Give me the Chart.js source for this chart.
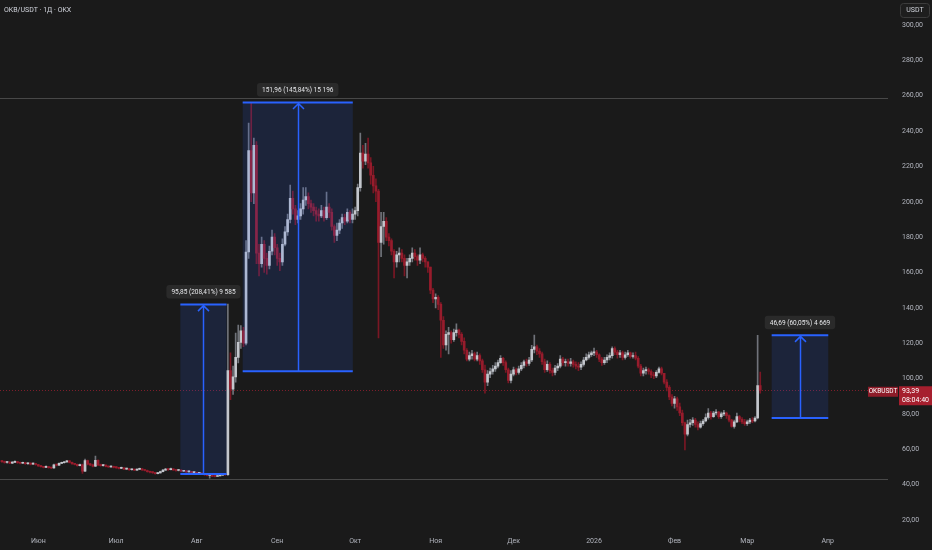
<!DOCTYPE html>
<html>
<head>
<meta charset="utf-8">
<script src="https://cdn.jsdelivr.net/npm/chart.js@4.4.1/dist/chart.umd.min.js"></script>
<style>
  html, body { margin: 0; padding: 0; background: #1a1a1a; }
  #wrap { position: relative; width: 932px; height: 550px; }
</style>
</head>
<body>
<div id="wrap"><canvas id="chart" width="932" height="550"></canvas></div>
<script>
// OKB/USDT daily candles, day 0 = 1 June 2025, first candle is day -14
const firstDay = -14;
const firstOpen = 53.3;

const closes = [
  53.0, 52.5, 52.8, 52.2, 52.6, 53.0, 52.4, 52.1, 52.3, 51.8,
  52.0, 51.6, 51.9, 51.4, 50.6, 50.2, 49.8, 50.1, 49.6, 49.4,
  51.2, 51.0, 52.0, 52.4, 52.9, 53.4, 52.6, 51.8, 51.5, 50.8,
  51.2, 47.6, 53.6, 51.6, 51.2, 50.4, 53.8, 51.2, 50.8, 51.0,
  50.3, 50.0, 50.4, 49.8, 49.6, 49.2, 49.5, 48.8, 49.0, 48.4,
  48.6, 48.2, 48.6, 48.9, 48.3, 48.0, 47.4, 47.0, 46.8, 46.2,
  46.6, 47.4, 48.2, 48.8, 48.5, 48.9, 48.3, 48.0, 48.3, 47.6,
  47.8, 47.2, 47.5, 46.8, 47.0, 46.4, 46.6, 46.0, 45.6, 45.2,
  45.4, 44.8, 44.6, 45.0, 45.4, 45.8, 45.6, 104.5, 94, 101,
  112, 120.5, 127, 120, 171.6, 229, 205, 232, 171, 165,
  176, 168, 164, 172, 180, 174, 168, 166, 176, 183,
  190, 202, 196, 190, 192, 196, 201, 203, 199, 197,
  195, 193, 192, 195, 191, 197, 194, 186, 181, 184,
  188, 191, 189, 194, 190, 193, 195, 208, 227.6, 223,
  227, 222, 215, 209, 206, 177, 186, 189, 180, 178,
  172, 166, 170, 171, 168, 164, 166, 168, 171, 169,
  167, 170, 168, 166, 163, 150, 145, 146, 142, 133,
  119, 125, 126, 122, 126, 127.5, 125, 121, 116, 111,
  113, 114, 111, 113, 110, 105, 98, 102.5, 104, 105.5,
  107, 109, 111.5, 109, 105, 99, 102.5, 105, 103.5, 105.5,
  107.5, 109.5, 108.5, 110.5, 116.5, 118, 115.5, 114, 109.5, 105,
  108, 104.5, 103.5, 106, 107, 111, 109, 109.5, 108.5, 109.5,
  108, 107, 106.5, 108, 110.5, 112, 113.5, 114.5, 115, 113.5,
  111, 109, 110.5, 112, 113, 117, 115, 113.5, 114.5, 112,
  113.5, 114.5, 112.5, 113, 111.5, 107, 103, 104.5, 105, 104,
  102, 101.5, 103.5, 105.5, 103, 98, 95, 89.6, 86, 88.5,
  84, 80.5, 75, 68.5, 74, 75, 76.5, 74, 72.5, 74.5,
  76, 78, 80.5, 78.5, 80.5, 81, 78.5, 80, 80.5, 79,
  76.5, 73, 75.5, 78.5, 77, 75.5, 74.5, 75.5, 76.5, 76,
  77.7, 96, 93.39
];

const highs = [
  53.6, 53.3, 53.2, 53.0, 53.0, 53.4, 53.2, 52.7, 52.8, 52.6,
  52.5, 52.3, 52.3, 52.1, 51.5, 50.9, 50.4, 50.6, 50.4, 50.0,
  51.6, 51.6, 52.3, 52.8, 53.2, 53.8, 53.6, 52.8, 52.1, 51.7,
  51.6, 51.6, 54.5, 53.9, 52.0, 51.6, 56.2, 54.0, 51.6, 51.4,
  51.2, 50.6, 50.8, 50.5, 50.1, 49.8, 49.9, 49.6, 49.4, 49.2,
  49.0, 48.8, 48.9, 49.3, 49.1, 48.6, 48.2, 47.7, 47.3, 47.0,
  46.9, 47.7, 48.6, 49.2, 49.0, 49.3, 49.0, 48.6, 48.7, 48.4,
  48.1, 47.9, 47.8, 47.6, 47.4, 47.1, 47.0, 46.8, 46.3, 45.9,
  45.8, 45.6, 45.2, 45.4, 45.8, 46.3, 46.2, 142.2, 114.5, 107,
  125.8, 130.3, 130, 129, 178, 244.5, 256.2, 236, 234, 176,
  180, 178, 171, 175, 184, 182, 176, 171, 179, 186,
  193, 209.5, 206, 198, 195, 199, 208, 208, 205, 201,
  199, 197, 196, 198, 197, 205.5, 199, 196, 187, 188,
  190, 193, 193, 196, 195, 196, 197, 210, 238.9, 232,
  233, 236, 225, 220, 213, 207, 194, 194, 191, 182,
  179, 173, 172, 174, 173, 170, 168, 170, 174, 173,
  170, 174, 171, 169, 166, 163, 151, 148, 147, 143,
  135, 127, 129, 127, 128, 131, 128, 126, 123, 117,
  115, 116, 115, 115, 114, 111, 107.7, 104.5, 106, 107.5,
  109, 110.5, 113, 112, 110, 106, 104.5, 106.5, 106, 107,
  109, 110.5, 111, 112, 118.8, 124.6, 119, 117, 115, 111,
  110, 109, 106, 107.5, 108.5, 113, 112, 111, 111, 111.5,
  110.5, 109.5, 109, 109.5, 112, 114, 115, 115.5, 117.3, 116,
  114, 112, 112, 113.5, 114.5, 118, 118, 116, 116, 115.5,
  115, 116, 115, 114.5, 115, 112.5, 108, 106, 106.5, 106,
  105, 103.5, 104.5, 106.5, 106.5, 103, 99.5, 96, 91, 90,
  89.5, 86.2, 82.2, 75.4, 76.5, 77, 78, 77.5, 75.5, 76,
  77, 80, 83, 81.5, 81.5, 82.5, 81.5, 81, 82, 81,
  79.5, 77, 76.5, 80.5, 79, 78, 77, 76.5, 77.5, 78,
  78.5, 124.4, 103.7
];

const lows = [
  52.6, 52.1, 52.2, 51.9, 51.9, 52.4, 52.0, 51.7, 51.8, 51.5,
  51.5, 51.2, 51.4, 51.0, 50.3, 49.9, 49.5, 49.6, 49.3, 49.0,
  49.2, 50.6, 50.8, 51.9, 52.2, 52.6, 52.3, 51.5, 51.1, 50.5,
  50.6, 46.4, 47.4, 51.2, 50.8, 50.0, 50.2, 50.8, 50.4, 50.5,
  50.0, 49.7, 49.8, 49.5, 49.2, 48.9, 49.0, 48.5, 48.6, 48.1,
  48.2, 47.9, 48.0, 48.4, 48.0, 47.7, 47.1, 46.7, 46.4, 45.9,
  46.0, 46.5, 47.2, 48.0, 48.1, 48.3, 48.0, 47.6, 47.8, 47.3,
  47.3, 46.9, 47.0, 46.5, 46.6, 46.1, 46.1, 45.7, 45.2, 44.9,
  43.6, 44.5, 44.3, 44.6, 44.9, 45.2, 45.2, 45.2, 88, 91,
  98, 108.8, 117, 118, 119, 168, 200, 199, 165, 158,
  163, 160, 159, 162, 170, 170, 164, 161, 164, 175,
  181, 188, 193, 187, 188, 190, 193, 198, 196, 194,
  192, 189, 189, 191, 189, 190, 191, 184, 177, 178,
  182, 185, 187, 188, 188, 188, 190, 192, 206, 219,
  221, 219, 210, 205, 200, 123, 169, 176, 178, 175,
  170, 157, 163, 166, 166, 158, 157, 164, 166, 167,
  164, 165, 166, 163, 160, 148, 143, 140, 139, 112,
  117, 116, 114, 120, 121, 124, 123, 119, 114, 110,
  110, 111, 110, 110, 108, 103.5, 91.8, 96, 100.5, 102.5,
  104, 106, 108.5, 107.5, 103.5, 97.5, 97.5, 101.5, 102, 102.5,
  104.5, 106, 107, 107.5, 109.5, 114.5, 113.5, 112, 108, 103.5,
  104, 103, 101.5, 102, 104.5, 106, 107.5, 107, 107, 107,
  106.5, 105.5, 104.5, 105, 107, 110, 111, 112.5, 113, 112,
  109.5, 107.5, 108, 109, 110.5, 111.5, 113.5, 111.5, 112, 110.5,
  111, 112.5, 111.5, 111.5, 110.5, 106, 101.5, 101.5, 102.5, 102.5,
  100.5, 100, 100.5, 103, 102, 97, 93, 88, 84.5, 83.3,
  82, 79, 73.5, 59.6, 67.5, 72.5, 73.5, 72.5, 71, 72,
  73.5, 75.5, 77, 77, 78, 79.5, 77.5, 77.5, 79, 77.5,
  75.5, 72.5, 72, 75, 75.5, 74.5, 73.5, 73.5, 74.5, 75,
  75.5, 77.2, 91.8
];

// month ticks (day offsets) and their labels
const monthTicks = [0, 30, 61, 92, 122, 153, 183, 214, 245, 273, 304];
const monthLabels = ['Июн', 'Июл', 'Авг', 'Сен', 'Окт', 'Ноя', 'Дек', '2026', 'Фев', 'Мар', 'Апр'];
const priceTicks = [20, 40, 60, 80, 100, 120, 140, 160, 180, 200, 220, 240, 260, 280, 300];

// price range measurements drawn on the chart
const rangeStart = [54.7, 78.7, 282.4];
const rangeEnd = [72.5, 121.1, 304.2];
const rangeFrom = [45.99, 104.2, 77.75];
const rangeTo = [141.84, 256.16, 124.44];
const rangeLabels = ['95,85 (208,41%) 9 585', '151,96 (145,84%) 15 196', '46,69 (60,05%) 4 669'];

// horizontal lines
const hLevels = [258.5, 43.36];
const lastPrice = 93.39;
const lastTime = '08:04:40';

const UP = '#c3c6cc', DOWN = '#971c2c';
const UP_WICK = '#70737a', DOWN_WICK = '#7a1724';
const FONT = 'Roboto, "Noto Sans", sans-serif';

const opens = closes.map((c, i) => i === 0 ? firstOpen : closes[i - 1]);
const days = closes.map((c, i) => firstDay + i);
const isUp = closes.map((c, i) => c >= opens[i]);

const fmt = v => v.toFixed(2).replace('.', ',');

const overlay = {
  id: 'overlay',
  beforeDatasetsDraw(chart) {
    const { ctx, chartArea: a, scales: { y } } = chart;
    ctx.save();
    ctx.strokeStyle = '#484848';
    ctx.lineWidth = 1;
    hLevels.forEach(p => {
      const py = Math.round(y.getPixelForValue(p)) + 0.5;
      ctx.beginPath(); ctx.moveTo(0, py); ctx.lineTo(a.right, py); ctx.stroke();
    });
    // last price dotted line
    const ly = Math.round(y.getPixelForValue(lastPrice)) + 0.5;
    ctx.strokeStyle = '#7d1e2b';
    ctx.setLineDash([1, 2]);
    ctx.beginPath(); ctx.moveTo(0, ly); ctx.lineTo(a.right, ly); ctx.stroke();
    ctx.restore();
  },
  afterDatasetsDraw(chart) {
    const { ctx, scales: { x, y } } = chart;
    ctx.save();
    rangeStart.forEach((s, i) => {
      const x0 = x.getPixelForValue(s), x1 = x.getPixelForValue(rangeEnd[i]);
      const yt = y.getPixelForValue(rangeTo[i]), yb = y.getPixelForValue(rangeFrom[i]);
      ctx.fillStyle = 'rgba(41, 98, 255, 0.14)';
      ctx.fillRect(x0, yt, x1 - x0, yb - yt);
      ctx.strokeStyle = '#2962ff';
      ctx.lineWidth = 2;
      ctx.beginPath();
      ctx.moveTo(x0, yt); ctx.lineTo(x1, yt);
      ctx.moveTo(x0, yb); ctx.lineTo(x1, yb);
      ctx.stroke();
      const cx = Math.round((x0 + x1) / 2) + 0.5;
      ctx.lineWidth = 1.5;
      ctx.beginPath();
      ctx.moveTo(cx, yb); ctx.lineTo(cx, yt + 1);
      ctx.moveTo(cx - 5.5, yt + 6.5); ctx.lineTo(cx, yt + 1); ctx.lineTo(cx + 5.5, yt + 6.5);
      ctx.stroke();
      // label
      ctx.font = '6.5px ' + FONT;
      const tw = ctx.measureText(rangeLabels[i]).width;
      const bw = tw + 10, bh = 13.5;
      const bx = (x0 + x1) / 2 - bw / 2, by = yt - 6 - bh;
      ctx.fillStyle = '#2a2a2a';
      ctx.beginPath(); ctx.roundRect(bx, by, bw, bh, 3); ctx.fill();
      ctx.fillStyle = '#e6e7ea';
      ctx.textAlign = 'center'; ctx.textBaseline = 'middle';
      ctx.fillText(rangeLabels[i], (x0 + x1) / 2, by + bh / 2 + 0.5);
    });
    ctx.restore();
  },
  afterDraw(chart) {
    const { ctx, scales: { y } } = chart;
    ctx.save();
    // title
    ctx.font = '7px ' + FONT;
    ctx.fillStyle = '#d1d4dc';
    ctx.textAlign = 'left'; ctx.textBaseline = 'middle';
    ctx.fillText('OKB/USDT · 1Д · OKX', 4, 10);
    // currency box
    ctx.strokeStyle = '#3c3c3c'; ctx.lineWidth = 1;
    ctx.fillStyle = '#1e1e1e';
    ctx.beginPath(); ctx.roundRect(900.5, 3.5, 29, 14, 3); ctx.fill(); ctx.stroke();
    ctx.fillStyle = '#d1d4dc'; ctx.textAlign = 'center';
    ctx.fillText('USDT', 915, 10.7);
    // last price labels
    const ly = y.getPixelForValue(lastPrice);
    ctx.fillStyle = '#8e1c29';
    ctx.fillRect(868, ly - 3.5, 30, 10);
    ctx.fillStyle = '#a61f2e';
    ctx.fillRect(899, ly - 4, 33, 19);
    ctx.fillStyle = '#ffffff';
    ctx.font = '6.5px ' + FONT;
    ctx.fillText('OKBUSDT', 883, ly + 1.5);
    ctx.textAlign = 'left';
    ctx.font = '7px ' + FONT;
    ctx.fillText(fmt(lastPrice), 902, ly + 0.5);
    ctx.fillText(lastTime, 902, ly + 9.5);
    ctx.restore();
  }
};

const ctx = document.getElementById('chart').getContext('2d');
const chart = new Chart(ctx, {
  type: 'bar',
  data: {
    datasets: [
      {
        label: 'wicks',
        data: days.map((d, i) => ({ x: d, y: [lows[i], highs[i]] })),
        backgroundColor: isUp.map(u => u ? UP_WICK : DOWN_WICK),
        barThickness: 1,
        grouped: false,
        order: 2
      },
      {
        label: 'bodies',
        data: days.map((d, i) => ({ x: d, y: [opens[i], closes[i]] })),
        backgroundColor: isUp.map(u => u ? UP : DOWN),
        barThickness: 2,
        minBarLength: 1,
        grouped: false,
        order: 1
      }
    ]
  },
  options: {
    responsive: false,
    animation: false,
    devicePixelRatio: 1,
    layout: { padding: 0 },
    plugins: { legend: { display: false }, tooltip: { enabled: false } },
    scales: {
      x: {
        type: 'linear',
        min: -14.75,
        max: 327.2,
        offset: false,
        grid: { display: false, drawTicks: false },
        border: { display: false },
        afterBuildTicks: s => { s.ticks = monthTicks.map(v => ({ value: v })); },
        afterFit: s => { s.height = 18; },
        ticks: {
          autoSkip: false,
          maxRotation: 0,
          padding: 5,
          color: '#b2b5be',
          font: { family: FONT, size: 7 },
          callback: v => monthLabels[monthTicks.indexOf(v)]
        }
      },
      y: {
        position: 'right',
        min: 13.21,
        max: 314.14,
        grid: { display: false, drawTicks: false },
        border: { display: false },
        afterBuildTicks: s => { s.ticks = priceTicks.map(v => ({ value: v })); },
        afterFit: s => { s.width = 44; },
        ticks: {
          padding: 14,
          color: '#b2b5be',
          font: { family: FONT, size: 7 },
          callback: v => fmt(v)
        }
      }
    }
  },
  plugins: [overlay]
});

// fit the price range to the plot area so 300 sits near the top and 20 near the bottom
const area = chart.chartArea;
const pxPerUnit = (520 - 25) / 280;
chart.options.scales.y.max = 300 + (25 - area.top) / pxPerUnit;
chart.options.scales.y.min = 20 - (area.bottom - 520) / pxPerUnit;
chart.update();
</script>
</body>
</html>
